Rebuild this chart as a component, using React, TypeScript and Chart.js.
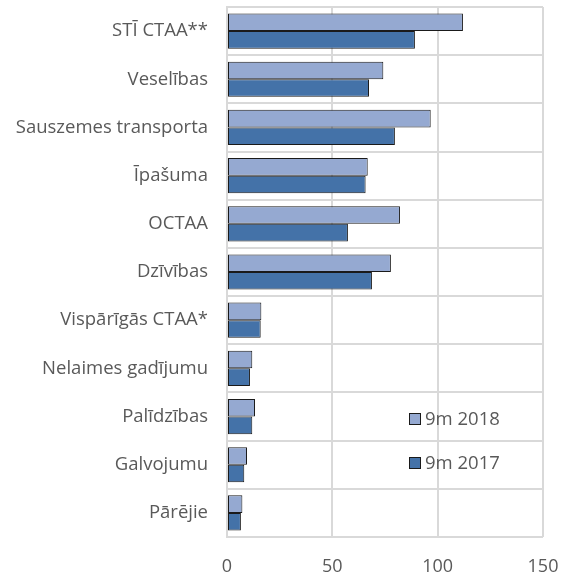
import React, { useEffect, useRef } from "react";
import { Chart, registerables } from "chart.js";

Chart.register(...registerables);

const categories = [
  "STĪ CTAA**",
  "Veselības",
  "Sauszemes transporta",
  "Īpašuma",
  "OCTAA",
  "Dzīvības",
  "Vispārīgās CTAA*",
  "Nelaimes gadījumu",
  "Palīdzības",
  "Galvojumu",
  "Pārējie",
];
const series2018 = [112, 74.2, 96.7, 66.8, 82.1, 77.8, 16.3, 12.0, 13.3, 9.5, 7.3];
const series2017 = [89.2, 67.4, 79.7, 65.8, 57.4, 68.8, 16.0, 10.9, 12.0, 8.2, 6.6];
const seriesLabels = ["9m 2018", "9m 2017"];
const xTicks = [0, 50, 100, 150];

const FONT = "'Open Sans', sans-serif";
const FSIZE = 18.5;
const TEXT = "#595959";
const GRID = "#d9d9d9";
const COLORS = ["#95a9d1", "#4472a8"];

const legendPlugin = {
  id: "innerLegend",
  afterDraw(chart: any) {
    const { ctx, chartArea } = chart;
    const x0 = chartArea.left + 182;
    const ys = [chartArea.top + 412, chartArea.top + 456];
    ctx.save();
    ctx.font = `${FSIZE}px ${FONT}`;
    ctx.textBaseline = "middle";
    seriesLabels.forEach((lab, i) => {
      const y = ys[i];
      ctx.fillStyle = COLORS[i];
      ctx.fillRect(x0, y - 6, 12, 12);
      ctx.strokeStyle = "#1a1a1a";
      ctx.lineWidth = 1;
      ctx.strokeRect(x0 + 0.5, y - 5.5, 11, 11);
      ctx.fillStyle = TEXT;
      ctx.fillText(lab, x0 + 16, y + 1);
    });
    ctx.restore();
  },
};

export default function App() {
  const ref = useRef<HTMLCanvasElement | null>(null);
  useEffect(() => {
    document.body.style.margin = "0";
    const chart = new Chart(ref.current!, {
      type: "bar",
      data: {
        labels: categories,
        datasets: [
          {
            label: seriesLabels[0],
            data: series2018,
            backgroundColor: COLORS[0],
            borderColor: "#1a1a1a",
            borderWidth: 1,
            borderSkipped: false,
            categoryPercentage: 0.73,
            barPercentage: 1,
          },
          {
            label: seriesLabels[1],
            data: series2017,
            backgroundColor: COLORS[1],
            borderColor: "#1a1a1a",
            borderWidth: 1,
            borderSkipped: false,
            categoryPercentage: 0.73,
            barPercentage: 1,
          },
        ],
      },
      options: {
        indexAxis: "y",
        animation: false,
        responsive: false,
        layout: { padding: { top: 7, right: 27, left: 0, bottom: 0 } },
        plugins: { legend: { display: false }, tooltip: { enabled: false } },
        scales: {
          x: {
            min: 0,
            max: 150,
            afterBuildTicks: (s: any) => {
              s.ticks = xTicks.map((v) => ({ value: v }));
            },
            afterFit: (s: any) => {
              s.height = 38;
              s.paddingLeft = 0;
              s.paddingRight = 0;
            },
            grid: { color: GRID, lineWidth: 2, drawTicks: false },
            border: { display: false },
            ticks: { color: TEXT, font: { family: FONT, size: 18 }, padding: 19 },
          },
          y: {
            afterFit: (s: any) => {
              s.width = 227;
              s.paddingTop = 0;
              s.paddingBottom = 0;
            },
            grid: { color: GRID, lineWidth: 2, drawTicks: false, offset: true },
            border: { display: true, color: GRID, width: 2 },
            ticks: { color: TEXT, font: { family: FONT, size: FSIZE }, padding: 19 },
          },
        },
      },
      plugins: [legendPlugin],
    });
    return () => chart.destroy();
  }, []);
  return (
    <div style={{ width: 570, height: 575 }}>
      <canvas ref={ref} width={570} height={575} />
    </div>
  );
}
